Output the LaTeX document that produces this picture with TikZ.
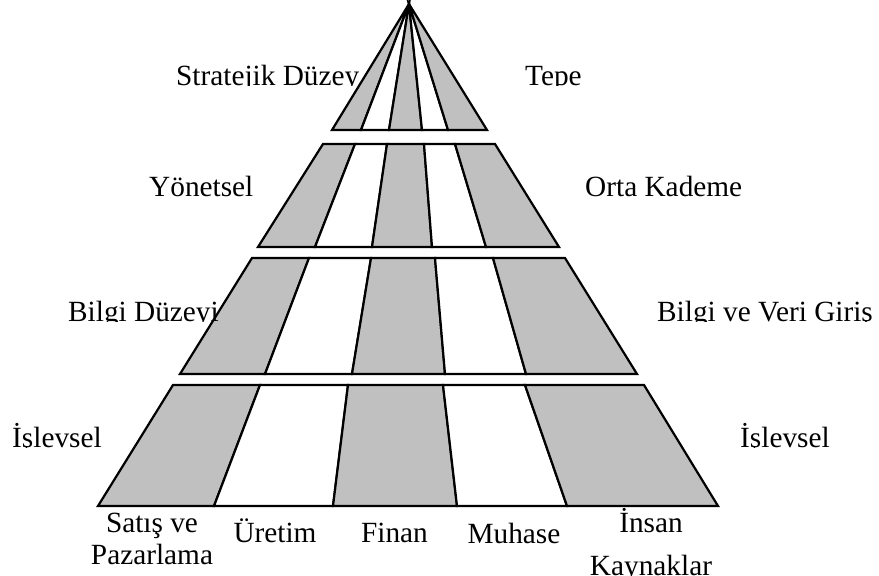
\documentclass[tikz,border=0pt]{standalone}
\usepackage{fontspec}
\setmainfont{Liberation Serif}
\usepackage{tikz}
\definecolor{stripgray}{RGB}{192,192,192}

\begin{document}
\begin{tikzpicture}[x=1pt,y=1pt,yscale=-1,xscale=1,
  band/.style={draw=black,line width=2.2pt,fill=stripgray},
  gap/.style={draw=black,line width=2.2pt,fill=white},
  lbl/.style={inner sep=0pt,font=\fontsize{29.3}{31}\selectfont}]
\useasboundingbox (0,0) rectangle (879,576);
\fill[white] (0,0) rectangle (879,576);

%Top: Stratejik
\draw [band] (409,4) -- (332,130) -- (361,130) -- cycle ;
\draw [gap]  (409,4) -- (361,130) -- (389,130) -- cycle ;
\draw [band] (409,4) -- (389,130) -- (422,130) -- cycle ;
\draw [gap]  (409,4) -- (422,130) -- (448,130) -- cycle ;
\draw [band] (409,4) -- (448,130) -- (487,130) -- cycle ;

%Middle: Yonetsel
\draw [band] (323,144) -- (355,144) -- (315,247) -- (258,247) -- cycle ;
\draw [gap]  (355,144) -- (387,144) -- (372,247) -- (315,247) -- cycle ;
\draw [band] (387,144) -- (424,144) -- (432,247) -- (372,247) -- cycle ;
\draw [gap]  (424,144) -- (455,144) -- (486,247) -- (432,247) -- cycle ;
\draw [band] (455,144) -- (495,144) -- (559,247) -- (486,247) -- cycle ;

%Bilgi Duzeyi
\draw [band] (252,258) -- (309,258) -- (265,374) -- (180,374) -- cycle ;
\draw [gap]  (309,258) -- (371,258) -- (352,374) -- (265,374) -- cycle ;
\draw [band] (371,258) -- (435,258) -- (445,374) -- (352,374) -- cycle ;
\draw [gap]  (435,258) -- (493,258) -- (526,374) -- (445,374) -- cycle ;
\draw [band] (493,258) -- (565,258) -- (637,374) -- (526,374) -- cycle ;

%Islevsel
\draw [band] (173,385) -- (260,385) -- (214,506) -- (98,506) -- cycle ;
\draw [gap]  (260,385) -- (348,385) -- (333,506) -- (214,506) -- cycle ;
\draw [band] (348,385) -- (443,385) -- (457,506) -- (333,506) -- cycle ;
\draw [gap]  (443,385) -- (525,385) -- (567,506) -- (457,506) -- cycle ;
\draw [band] (525,385) -- (644,385) -- (718,506) -- (567,506) -- cycle ;

%Level labels (cut at the bottom)
\begin{scope}
\clip (0,0) rectangle (879,85.5);
\node [lbl,anchor=base west] (strat) at (176,85) {Stratejik Düzey};
\node [lbl,anchor=base west] (tepe) at (525,85) {Tepe};
\end{scope}

\node [lbl,anchor=base west] (yonetsel) at (149,196) {Yönetsel};
\node [lbl,anchor=base west] (orta) at (585,196) {Orta Kademe};

\begin{scope}
\clip (0,0) rectangle (879,321.5);
\node [lbl,anchor=base west] (bilgi) at (68,321) {Bilgi Düzeyi};
\node [lbl,anchor=base west] (veri) at (657,321) {Bilgi ve Veri Giriş};
\end{scope}

\begin{scope}
\clip (0,0) rectangle (879,447.5);
\node [lbl,anchor=base west] (islevL) at (12,447) {İşlevsel};
\node [lbl,anchor=base west] (islevR) at (740,447) {İşlevsel};
\end{scope}

%Functions
\node [lbl,anchor=base] (satis) at (152,532) {Satış ve};
\node [lbl,anchor=base] (pazar) at (152,564) {Pazarlama};
\node [lbl,anchor=base] (uretim) at (275,542) {Üretim};
\node [lbl,anchor=base] (finan) at (394.5,542) {Finan};
\node [lbl,anchor=base] (muhase) at (514,543) {Muhase};
\node [lbl,anchor=base] (insan) at (651,532) {İnsan};
\node [lbl,anchor=base] (kaynak) at (651,575) {Kaynaklar};

\end{tikzpicture}
\end{document}
